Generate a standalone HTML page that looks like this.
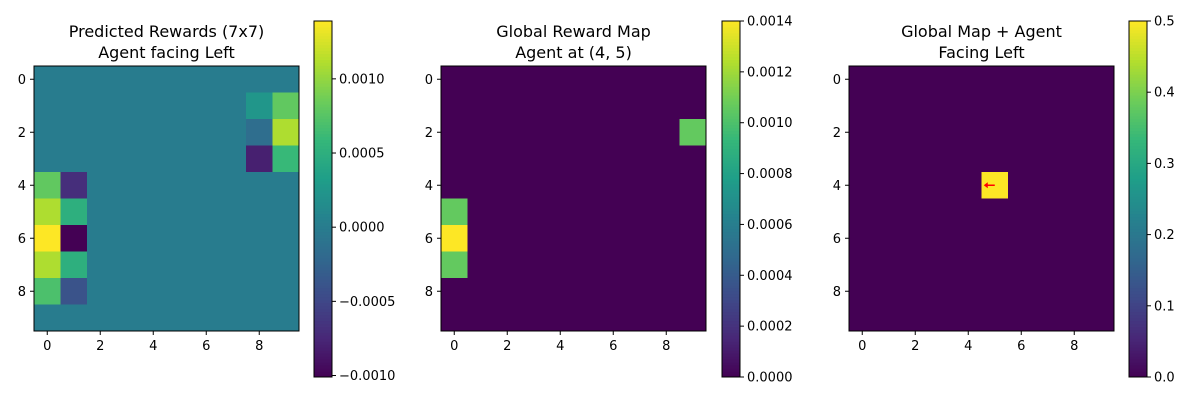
<!DOCTYPE html>
<html><head><meta charset="utf-8">
<style>
html,body{margin:0;padding:0;background:#fff;}
svg text{font-family:"DejaVu Sans","Liberation Sans",sans-serif;fill:#000;}
</style></head>
<body>
<svg id="fig" width="1200" height="400" viewBox="0 0 1200 400" xmlns="http://www.w3.org/2000/svg"></svg>
<script>
// ---- data ----
const localRows = [[0,0,0,0,0,0,0,0,0,0],
 [0,0,0,0,0,0,0,0,0.00025,0.0008],
 [0,0,0,0,0,0,0,0,-0.00015,0.0011],
 [0,0,0,0,0,0,0,0,-0.0008,0.0006],
 [0.0008,-0.0007,0,0,0,0,0,0,0,0],
 [0.0011,0.0005,0,0,0,0,0,0,0,0],
 [0.00139,-0.00101,0,0,0,0,0,0,0,0],
 [0.0011,0.0005,0,0,0,0,0,0,0,0],
 [0.0007,-0.0004,0,0,0,0,0,0,0,0],
 [0,0,0,0,0,0,0,0,0,0]];
const globalCells = [[2,9,0.00106],[5,0,0.00106],[6,0,0.0014],[7,0,0.00106]];
const agentCells = [[4,5,0.5]];
const axisTicks = [0,2,4,6,8];
const cb1Ticks = [-0.001,-0.0005,0,0.0005,0.001];
const cb1Labels = ["\u22120.0010","\u22120.0005","0.0000","0.0005","0.0010"];
const cb2Ticks = [0,0.0002,0.0004,0.0006,0.0008,0.001,0.0012,0.0014];
const cb2Labels = ["0.0000","0.0002","0.0004","0.0006","0.0008","0.0010","0.0012","0.0014"];
const cb3Ticks = [0,0.1,0.2,0.3,0.4,0.5];
const cb3Labels = ["0.0","0.1","0.2","0.3","0.4","0.5"];

const VIR = [[68,1,84],[72,40,120],[62,74,137],[49,104,142],[38,130,142],[31,158,137],[53,183,121],[109,205,89],[180,222,44],[253,231,37]];
function viridis(t){t=Math.max(0,Math.min(1,t));const p=t*(VIR.length-1);const i=Math.min(VIR.length-2,Math.floor(p));const f=p-i;
 const c=VIR[i].map((v,k)=>Math.round(v+(VIR[i+1][k]-v)*f));return `rgb(${c[0]},${c[1]},${c[2]})`;}
const NS="http://www.w3.org/2000/svg";
const svg=document.getElementById('fig');
function mk(tag,attrs,parent){const e=document.createElementNS(NS,tag);for(const k in attrs)e.setAttribute(k,attrs[k]);(parent||svg).appendChild(e);return e;}

const AY0=66,AY1=331,CBY0=21,CBY1=377;
function panel(idx,ax0,cbx,grid,vmin,vmax,titles,ticks,labels){
 const g=mk('g',{});
 
 
 const w=(265)/10;
 const xs=c=>ax0+c*w, ys=r=>AY0+r*w;
 const cv=v=>viridis((v-vmin)/(vmax-vmin));
 for(let r=0;r<10;r++)for(let c=0;c<10;c++){
  const rc=mk('rect',{x:xs(c),y:ys(r),width:w+0.3,height:w+0.3,fill:cv(grid[r][c])},g);
  
  
 }
 const fr=mk('rect',{x:ax0,y:AY0,width:265,height:265,fill:'none',stroke:'#000','stroke-width':1},g);
 
 
 axisTicks.forEach(t=>{
  const cx=xs(t)+w/2, cy=ys(t)+w/2;
  mk('line',{x1:cx,y1:AY1,x2:cx,y2:AY1+4,stroke:'#000'},g);
  const tx=mk('text',{x:cx,y:AY1+19,'font-size':13,'text-anchor':'middle'},g);tx.textContent=t;
  
  
  mk('line',{x1:ax0-4,y1:cy,x2:ax0,y2:cy,stroke:'#000'},g);
  const ty=mk('text',{x:ax0-8,y:cy+4.5,'font-size':13,'text-anchor':'end'},g);ty.textContent=t;
  
  
 });
 titles.forEach((s,i)=>{const t=mk('text',{x:ax0+132.5,y:37+i*21,'font-size':16,'text-anchor':'middle'},g);t.textContent=s;
  
  });
 // colorbar
 const cb=mk('g',{},g);
 
 
 const N=120,h=(CBY1-CBY0)/N;
 for(let i=0;i<N;i++){mk('rect',{x:cbx,y:CBY1-(i+1)*h,width:18,height:h+0.4,fill:viridis((i+0.5)/N)},cb);}
 mk('rect',{x:cbx,y:CBY0,width:18,height:CBY1-CBY0,fill:'none',stroke:'#000'},cb);
 const cy=v=>CBY1-(v-vmin)/(vmax-vmin)*(CBY1-CBY0);
 ticks.forEach((v,i)=>{const y=cy(v);mk('line',{x1:cbx+18,y1:y,x2:cbx+22,y2:y,stroke:'#000'},cb);
  const t=mk('text',{x:cbx+25,y:y+4.5,'font-size':13},cb);t.textContent=labels[i];
  
  });
 return {xs,ys,w,g};
}
const z=()=>Array.from({length:10},()=>Array(10).fill(0));
panel(1,34,314,localRows,-0.00101,0.00139,["Predicted Rewards (7x7)","Agent facing Left"],cb1Ticks,cb1Labels);
const g2=z();globalCells.forEach(([r,c,v])=>g2[r][c]=v);
panel(2,441,722,g2,0,0.0014,["Global Reward Map","Agent at (4, 5)"],cb2Ticks,cb2Labels);
const g3=z();agentCells.forEach(([r,c,v])=>g3[r][c]=v);
const p3=panel(3,849,1129,g3,0,0.5,["Global Map + Agent","Facing Left"],cb3Ticks,cb3Labels);
// arrow
const ac=agentCells[0];
const ax=p3.xs(ac[1])+p3.w/2, ay=p3.ys(ac[0])+p3.w/2;
const ar=mk('g',{},p3.g);


mk('line',{x1:ax,y1:ay,x2:ax-8,y2:ay,stroke:'#f00','stroke-width':1.5},ar);
mk('polygon',{points:`${ax-11},${ay} ${ax-7},${ay-3} ${ax-7},${ay+3}`,fill:'#f00'},ar);
</script>
</body></html>
